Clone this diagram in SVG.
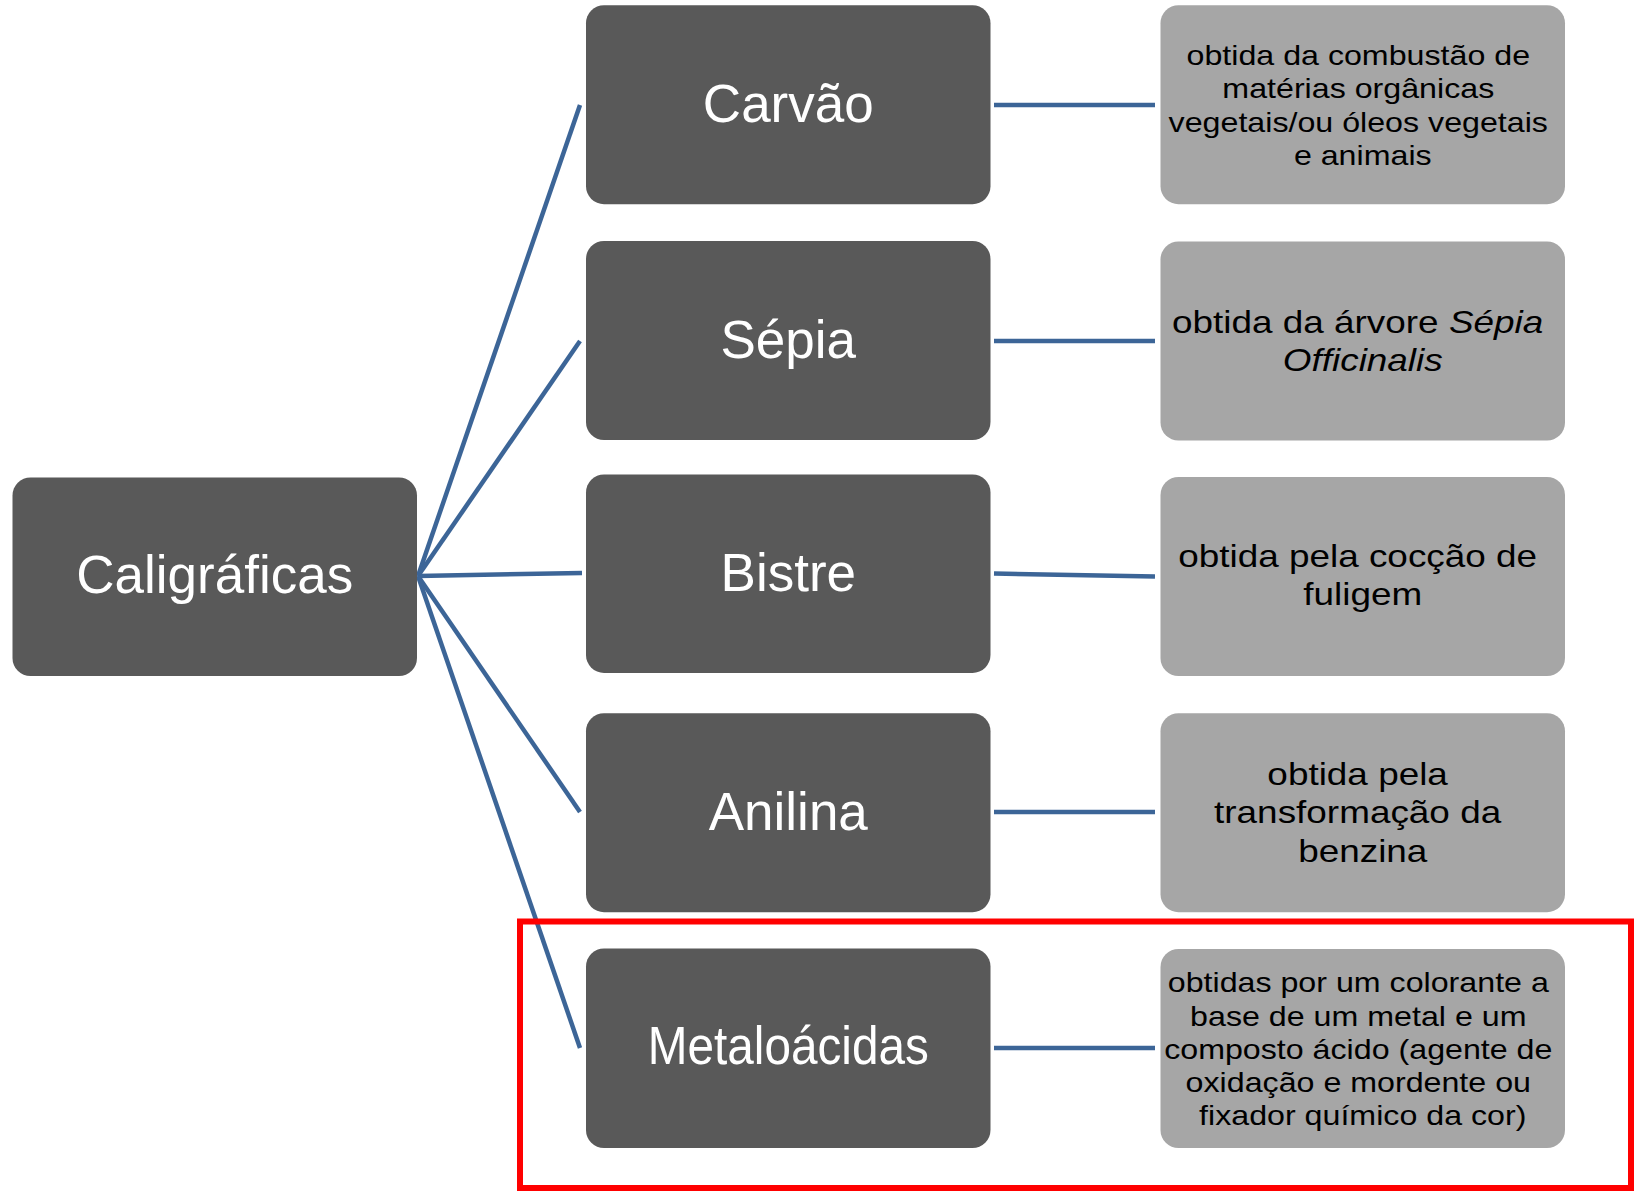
<svg xmlns="http://www.w3.org/2000/svg" width="1635" height="1191" viewBox="0 0 1635 1191">
<style>
.dark{fill:#595959}
.light{fill:#a6a6a6}
.t1{font-family:"Liberation Sans",Arial,sans-serif;font-size:53px;fill:#ffffff;text-anchor:middle}
.t2{font-family:"Liberation Sans",Arial,sans-serif;fill:#000000;text-anchor:middle}
.s{font-size:28.5px}
.b{font-size:30.5px}
.con line{stroke:#3c6597;stroke-width:4.5;stroke-linecap:butt}
</style>
<rect width="1635" height="1191" fill="#ffffff"/>
<g class="con" id="connectors">
<line x1="418" y1="576" x2="580" y2="105"/>
<line x1="418" y1="576" x2="580" y2="341"/>
<line x1="418" y1="576" x2="582" y2="573"/>
<line x1="418" y1="576" x2="580" y2="812"/>
<line x1="418" y1="576" x2="580" y2="1048"/>
<line x1="994" y1="105" x2="1155" y2="105"/>
<line x1="994" y1="341" x2="1155" y2="341"/>
<line x1="994" y1="573.5" x2="1155" y2="576.6"/>
<line x1="994" y1="812" x2="1155" y2="812"/>
<line x1="994" y1="1048" x2="1155" y2="1048"/>
</g>
<g id="root">
<rect class="dark" x="12.5" y="477.5" width="404.5" height="198.5" rx="18"/>
<text class="t1" x="214.75" y="593">Caligráficas</text>
</g>
<g id="carvao">
<rect class="dark" x="586" y="5.2" width="404.5" height="199" rx="18"/>
<text class="t1" x="788.3" y="121.8">Carvão</text>
</g>
<g id="sepia">
<rect class="dark" x="586" y="241" width="404.5" height="199" rx="18"/>
<text class="t1" x="788.3" y="357.5">Sépia</text>
</g>
<g id="bistre">
<rect class="dark" x="586" y="474.4" width="404.5" height="198.5" rx="18"/>
<text class="t1" x="788.3" y="590.5">Bistre</text>
</g>
<g id="anilina">
<rect class="dark" x="586" y="713.2" width="404.5" height="199" rx="18"/>
<text class="t1" x="788.3" y="829.5">Anilina</text>
</g>
<g id="metaloacidas">
<rect class="dark" x="586" y="948.5" width="404.5" height="199.5" rx="18"/>
<text class="t1" transform="translate(788.3,0) scale(0.9,1)" x="0" y="1064">Metaloácidas</text>
</g>
<g id="desc-carvao">
<rect class="light" x="1160.5" y="5.2" width="404.5" height="199" rx="18"/>
<text class="t2 s" transform="translate(1362.75,0) scale(1.13,1)">
<tspan x="0" y="65">obtida da combustão de</tspan>
<tspan x="0" y="98.5">matérias orgânicas</tspan>
<tspan x="0" y="132">vegetais/ou óleos vegetais</tspan>
<tspan x="0" y="165.5">e animais</tspan>
</text>
</g>
<g id="desc-sepia">
<rect class="light" x="1160.5" y="241.5" width="404.5" height="199" rx="18"/>
<text class="t2 b" transform="translate(1362.75,0) scale(1.21,1)">
<tspan x="0" y="333">obtida da árvore <tspan font-style="italic">Sépia</tspan></tspan>
<tspan x="0" y="371" font-style="italic">Officinalis</tspan>
</text>
</g>
<g id="desc-bistre">
<rect class="light" x="1160.5" y="477" width="404.5" height="199" rx="18"/>
<text class="t2 b" transform="translate(1362.75,0) scale(1.21,1)">
<tspan x="0" y="567.5">obtida pela cocção de</tspan>
<tspan x="0" y="605.5">fuligem</tspan>
</text>
</g>
<g id="desc-anilina">
<rect class="light" x="1160.5" y="713.2" width="404.5" height="199" rx="18"/>
<text class="t2 b" transform="translate(1362.75,0) scale(1.21,1)">
<tspan x="0" y="785">obtida pela</tspan>
<tspan x="0" y="823.3">transformação da</tspan>
<tspan x="0" y="861.6">benzina</tspan>
</text>
</g>
<g id="desc-metaloacidas">
<rect class="light" x="1160.5" y="949" width="404.5" height="199" rx="18"/>
<text class="t2 s" transform="translate(1362.75,0) scale(1.13,1)">
<tspan x="0" y="992.5">obtidas por um colorante a</tspan>
<tspan x="0" y="1025.7">base de um metal e um</tspan>
<tspan x="0" y="1058.9">composto ácido (agente de</tspan>
<tspan x="0" y="1092.1">oxidação e mordente ou</tspan>
<tspan x="0" y="1125.3">fixador químico da cor)</tspan>
</text>
</g>
<rect id="highlight" x="520" y="921.5" width="1111" height="266.5" fill="none" stroke="#ff0000" stroke-width="6"/>
</svg>
